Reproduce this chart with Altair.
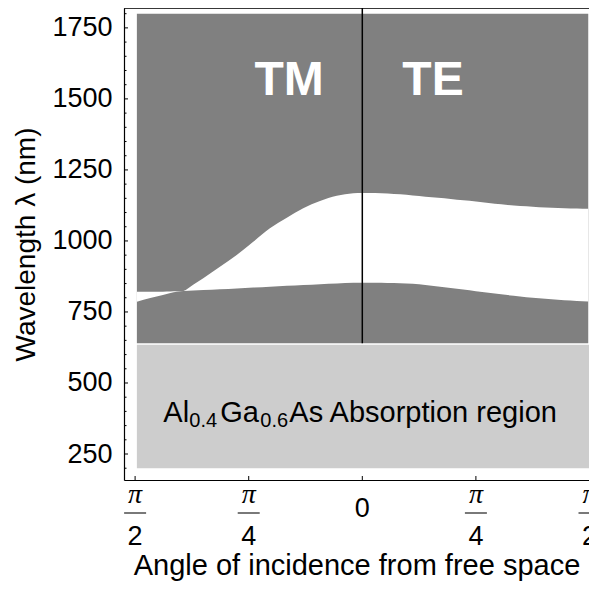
import altair as alt
import pandas as pd

# ---------------- data ----------------
# TM side (negative angles, degrees): two band-edge curves (they cross near -71.5 deg)
tm_angle = [-89.3, -84, -79, -76, -73.5, -70.9, -67, -63, -56.4, -49.75, -43.2, -36.6,
            -29.9, -23.4, -16.75, -10.1, -3.56, 0]
tm_edge_a = [786, 799, 810, 817, 821, 824, 846, 868.5, 909, 950.5, 997, 1044.5,
             1082, 1115, 1140.6, 1159.3, 1167.7, 1169]
tm_edge_b = [821, 821.3, 821.6, 822, 822.5, 823.5, 825.2, 827, 830, 833, 836, 839,
             842, 845, 848, 850.5, 852.5, 853]

# TE side (positive angles, degrees)
te_angle = [0, 5, 10, 15, 20, 25, 30, 35, 40, 45, 50, 55, 60, 65, 70, 75, 80, 85, 89.5]
te_upper = [1169, 1168.5, 1167, 1164, 1160, 1156, 1152, 1148, 1143, 1139, 1134, 1129,
            1125, 1122, 1119, 1117, 1115, 1114, 1113]
te_lower = [853, 852.5, 852, 851, 849, 845, 840, 834, 829, 823, 818, 812, 807, 802,
            798, 795, 791, 789, 787]

# regions: stop band (dark) and absorption region (light)
band_x = [-89.3, 89.5]
band_y = [640, 1800]
absorb_x = [-89.3, 90.3]
absorb_y = [200, 635]

polar_labels = ["TM", "TE"]
polar_x = [-29, 28]
polar_y = [1562, 1562]

y_major = [250, 500, 750, 1000, 1250, 1500, 1750]
y_minor = [200, 300, 350, 400, 450, 550, 600, 650, 700, 800, 850, 900, 950, 1050, 1100,
           1150, 1200, 1300, 1350, 1400, 1450, 1550, 1600, 1650, 1700, 1800]
x_tick_values = [-90, -45, 0, 45, 90]
x_fraction_ticks = [-90, -45, 45, 90]
x_denominators = ["2", "4", "4", "2"]

# ---------------- chart ----------------
W, H = 465, 472
FONT = "Liberation Sans"
DARK = "#808080"
LIGHT = "#cdcdcd"

xs = alt.Scale(domain=[-94.4, 89.8], nice=False, zero=False)
ys = alt.Scale(domain=[158.5, 1820], nice=False, zero=False)

x_axis = alt.Axis(
    title="Angle of incidence from free space", labels=False, ticks=False, grid=False,
    domainColor="black", domainWidth=1.2, titleFont=FONT, titleFontSize=29,
    titleFontWeight="normal", titleColor="black", titlePadding=71)
y_axis = alt.Axis(
    title="Wavelength λ (nm)", values=y_major, format="d", ticks=False, grid=False,
    domainColor="black", domainWidth=1.2, labelFont=FONT, labelFontSize=27,
    labelColor="black", labelPadding=12, titleFont=FONT, titleFontSize=28,
    titleFontWeight="normal", titleColor="black", titlePadding=11)


def X(field):
    return alt.X(field, scale=xs, axis=x_axis)


def Y(field):
    return alt.Y(field, scale=ys, axis=y_axis)


band_df = pd.DataFrame({"x0": [band_x[0]], "x1": [band_x[1]], "y0": [band_y[0]], "y1": [band_y[1]]})
absorb_df = pd.DataFrame({"x0": [absorb_x[0]], "x1": [absorb_x[1]], "y0": [absorb_y[0]], "y1": [absorb_y[1]]})
tm_df = pd.DataFrame({"x0": tm_angle, "y0": tm_edge_a, "y1": tm_edge_b})
te_df = pd.DataFrame({"x0": te_angle, "y0": te_upper, "y1": te_lower})
pol_df = pd.DataFrame({"label": polar_labels, "x0": polar_x, "y0": polar_y})
ymaj_df = pd.DataFrame({"y0": y_major})
ymin_df = pd.DataFrame({"y0": y_minor})
xt_df = pd.DataFrame({"x0": x_tick_values})
xf_df = pd.DataFrame({"x0": x_fraction_ticks, "d": x_denominators})
div_df = pd.DataFrame({"x0": [0], "y0": [band_y[0]], "y1": [1820]})
zero_df = pd.DataFrame({"x0": [0]})
abs_anchor = pd.DataFrame({"x0": [0], "y0": [362]})

absorb = alt.Chart(absorb_df).mark_rect(color=LIGHT).encode(
    x=X("x0:Q"), x2="x1:Q", y=Y("y0:Q"), y2="y1:Q")

band = alt.Chart(band_df).mark_rect(color=DARK).encode(
    x=X("x0:Q"), x2="x1:Q", y=Y("y0:Q"), y2="y1:Q")

tm_gap = alt.Chart(tm_df).mark_area(color="white", interpolate="monotone", opacity=1).encode(
    x=X("x0:Q"), y=Y("y0:Q"), y2="y1:Q")
te_gap = alt.Chart(te_df).mark_area(color="white", interpolate="monotone", opacity=1).encode(
    x=X("x0:Q"), y=Y("y0:Q"), y2="y1:Q")

divider = alt.Chart(div_df).mark_rule(color="black", strokeWidth=1.5).encode(
    x=X("x0:Q"), y=Y("y0:Q"), y2="y1:Q")

top_line = alt.Chart(zero_df).mark_rule(color="black", strokeWidth=1.5).encode(
    x=alt.value(0), x2=alt.value(W), y=alt.value(0))

pol_text = alt.Chart(pol_df).mark_text(
    font=FONT, fontSize=48, fontWeight="bold", color="white", baseline="middle", align="center"
).encode(x=X("x0:Q"), y=Y("y0:Q"), text="label:N")

ytick_major = alt.Chart(ymaj_df).mark_rule(color="black", strokeWidth=1).encode(
    y=Y("y0:Q"), x=alt.value(0), x2=alt.value(4))
ytick_minor = alt.Chart(ymin_df).mark_rule(color="black", strokeWidth=1).encode(
    y=Y("y0:Q"), x=alt.value(0), x2=alt.value(2.5))
xtick = alt.Chart(xt_df).mark_rule(color="black", strokeWidth=1).encode(
    x=X("x0:Q"), y=alt.value(H), y2=alt.value(H - 4))

num = alt.Chart(xf_df).mark_text(
    text="π", font="Liberation Serif", fontStyle="italic", fontSize=28,
    baseline="alphabetic", align="center", color="black"
).encode(x=X("x0:Q"), y=alt.value(495))
bar = alt.Chart(xf_df).mark_tick(orient="horizontal", size=22, thickness=1.5, color="black").encode(
    x=X("x0:Q"), y=alt.value(505))
den = alt.Chart(xf_df).mark_text(
    font=FONT, fontSize=27, baseline="alphabetic", align="center", color="black"
).encode(x=X("x0:Q"), y=alt.value(537), text="d:N")
zero_lab = alt.Chart(zero_df).mark_text(
    text="0", font=FONT, fontSize=27, baseline="alphabetic", align="center", color="black"
).encode(x=X("x0:Q"), y=alt.value(509))


def seg(txt, dx, size, dy=0):
    return alt.Chart(abs_anchor).mark_text(
        text=txt, font=FONT, fontSize=size, baseline="alphabetic", align="left",
        color="black", dx=dx, dy=dy
    ).encode(x=X("x0:Q"), y=Y("y0:Q"))


abs_text = [
    seg("Al", -199, 29),
    seg("0.4", -173, 20, 5),
    seg("Ga", -142, 29),
    seg("0.6", -102, 20, 5),
    seg("As Absorption region", -73, 29),
]

chart = alt.layer(
    absorb, band, tm_gap, te_gap, divider, top_line, pol_text,
    ytick_minor, ytick_major, xtick, num, bar, den, zero_lab, *abs_text
).properties(
    width=W, height=H,
    autosize=alt.AutoSizeParams(type="none"),
    padding={"left": 116, "top": 0, "right": 0, "bottom": 101},
).configure_view(stroke=None).configure(background="white")

chart.save("out.html", embed_options={"renderer": "svg", "actions": False})
